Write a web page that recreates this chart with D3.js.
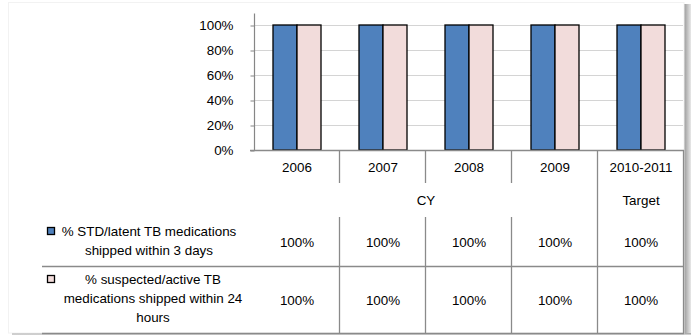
<!DOCTYPE html>
<html>
<head>
<meta charset="utf-8">
<script src="https://cdn.jsdelivr.net/npm/d3@7"></script>
<style>
  body { margin: 0; background: #fff; }
  text { font-family: "Liberation Sans", Arial, sans-serif; fill: #000; }
</style>
</head>
<body>
<div id="chart"></div>
<script>
  // data
  var categories = ["2006", "2007", "2008", "2009", "2010-2011"];
  var stdLatent = [1, 1, 1, 1, 1];
  var suspectedActive = [1, 1, 1, 1, 1];
  var yTicks = [0, 0.2, 0.4, 0.6, 0.8, 1];
  var colors = ["#4f81bd", "#f2dcdb"];

  var width = 691, height = 335;
  var fontSize = "13.4px";

  var svg = d3.select("#chart").append("svg")
      .attr("width", width)
      .attr("height", height);

  // frame + drop shadow
  var defs = svg.append("defs");
  var gr = defs.append("linearGradient").attr("id", "shR").attr("x1", 0).attr("x2", 1);
  gr.append("stop").attr("offset", 0).attr("stop-color", "#9a9a9a");
  gr.append("stop").attr("offset", 1).attr("stop-color", "#e8e8e8");
  var gb = defs.append("linearGradient").attr("id", "shB").attr("x1", 0).attr("x2", 0).attr("y1", 0).attr("y2", 1);
  gb.append("stop").attr("offset", 0).attr("stop-color", "#9a9a9a");
  gb.append("stop").attr("offset", 1).attr("stop-color", "#e0e0e0");
  svg.append("rect").attr("x", 684).attr("y", 4).attr("width", 7).attr("height", 331).attr("fill", "url(#shR)");
  svg.append("rect").attr("x", 12).attr("y", 333).attr("width", 679).attr("height", 2).attr("fill", "url(#shB)");
  svg.append("rect").attr("x", 8.5).attr("y", 2.5).attr("width", 675.5).attr("height", 330.5)
      .attr("fill", "#fff").attr("stroke", "#f2f2f2");

  var plotLeft = 254, plotRight = 684, plotTop = 25, plotBottom = 150;

  var xScale = d3.scaleBand()
      .domain(categories)
      .range([plotLeft, plotRight])
      .padding(0);

  var barW = 24;
  var xScale1 = d3.scaleBand()
      .domain([0, 1])
      .range([xScale.bandwidth() / 2 - barW, xScale.bandwidth() / 2 + barW]);

  var yScale = d3.scaleLinear()
      .domain([0, 1])
      .range([plotBottom, plotTop]);

  // gridlines
  svg.append("g").selectAll("line")
      .data(yTicks.filter(function(d) { return d > 0; }))
      .enter().append("line")
      .attr("x1", plotLeft).attr("x2", plotRight - 1)
      .attr("y1", function(d) { return Math.round(yScale(d)) + 0.5; })
      .attr("y2", function(d) { return Math.round(yScale(d)) + 0.5; })
      .attr("stroke", "#d4d4d4");

  // y axis
  var yAxis = svg.append("g")
      .attr("transform", `translate(${plotLeft + 0.5}, 0.5)`)
      .call(d3.axisLeft(yScale).tickValues(yTicks).tickFormat(d3.format(".0%")).tickSize(4).tickPadding(17));
  yAxis.select(".domain").attr("d", `M0,${13}V${plotBottom}`).attr("stroke", "#868686").attr("stroke-width", 1.2);
  yAxis.selectAll(".tick line").attr("stroke", "#868686");
  yAxis.selectAll(".tick text").attr("font-size", fontSize).attr("font-family", "Liberation Sans, Arial, sans-serif").attr("fill", "#000");

  // bars
  var data = categories.map(function(c, i) { return {cat: c, vals: [stdLatent[i], suspectedActive[i]]}; });
  var groups = svg.append("g").selectAll("g")
      .data(data)
      .enter().append("g")
      .attr("transform", function(d) { return `translate(${xScale(d.cat)}, 0)`; });

  groups.selectAll("rect")
      .data(function(d) { return d.vals.map(function(v, s) { return {v: v, s: s}; }); })
      .enter().append("rect")
      .attr("x", function(d) { return xScale1(d.s); })
      .attr("width", xScale1.bandwidth())
      .attr("y", function(d) { return yScale(d.v); })
      .attr("height", function(d) { return plotBottom - yScale(d.v); })
      .attr("fill", function(d) { return colors[d.s]; })
      .attr("stroke", "#000")
      .attr("stroke-width", 1.3);

  // data table
  var lineColor = "#8a8a8a";
  var rowYear = [150, 183], rowGroup = [183, 217], row1 = [217, 266], row2 = [266, 333];
  var t = svg.append("g").attr("stroke", lineColor).attr("stroke-width", 1.3);

  // horizontal lines
  t.append("line").attr("x1", 250).attr("x2", plotRight).attr("y1", plotBottom + 0.5).attr("y2", plotBottom + 0.5);
  t.append("line").attr("x1", 42).attr("x2", plotRight).attr("y1", row2[0] + 0.5).attr("y2", row2[0] + 0.5);
  t.append("line").attr("x1", 42).attr("x2", plotRight).attr("y1", row2[1] + 0.5).attr("y2", row2[1] + 0.5);

  // vertical lines
  categories.forEach(function(c, i) {
    var x = Math.round(xScale(c) + xScale.bandwidth()) - 0.5;
    if (i >= 3) {
      t.append("line").attr("x1", x).attr("x2", x).attr("y1", rowYear[0]).attr("y2", row2[1]);
    } else {
      t.append("line").attr("x1", x).attr("x2", x).attr("y1", rowYear[0]).attr("y2", rowYear[1]);
      t.append("line").attr("x1", x).attr("x2", x).attr("y1", row1[0]).attr("y2", row2[1]);
    }
  });

  var txt = svg.append("g").attr("font-size", fontSize).attr("text-anchor", "middle");
  function mid(r) { return (r[0] + r[1]) / 2; }

  txt.selectAll(".cat").data(categories).enter().append("text")
      .attr("x", function(d) { return xScale(d) + xScale.bandwidth() / 2; })
      .attr("y", mid(rowYear) + 5)
      .text(function(d) { return d; });

  txt.append("text").attr("x", (xScale("2006") + xScale("2010-2011")) / 2).attr("y", mid(rowGroup) + 5).text("CY");
  txt.append("text").attr("x", xScale("2010-2011") + xScale.bandwidth() / 2).attr("y", mid(rowGroup) + 5).text("Target");

  [stdLatent, suspectedActive].forEach(function(vals, s) {
    var r = s === 0 ? row1 : row2;
    txt.selectAll(".v" + s).data(vals).enter().append("text")
        .attr("x", function(d, i) { return xScale(categories[i]) + xScale.bandwidth() / 2; })
        .attr("y", mid(r) + 5)
        .text(function(d) { return d3.format(".0%")(d); });
  });

  // row headers with legend keys
  var header1 = ["% STD/latent TB medications", "shipped within 3 days"];
  var header2 = ["% suspected/active TB", "medications shipped within 24", "hours"];
  [[header1, 149, 231], [header2, 153, 279]].forEach(function(h, s) {
    h[0].forEach(function(line, k) {
      txt.append("text").attr("x", h[1]).attr("y", h[2] + 5 + k * 19).text(line);
    });
    svg.append("rect")
        .attr("x", 47.5).attr("y", s === 0 ? 227.5 : 275.5)
        .attr("width", 7).attr("height", 7)
        .attr("fill", colors[s]).attr("stroke", "#000").attr("stroke-width", 1.3);
  });
</script>
</body>
</html>
